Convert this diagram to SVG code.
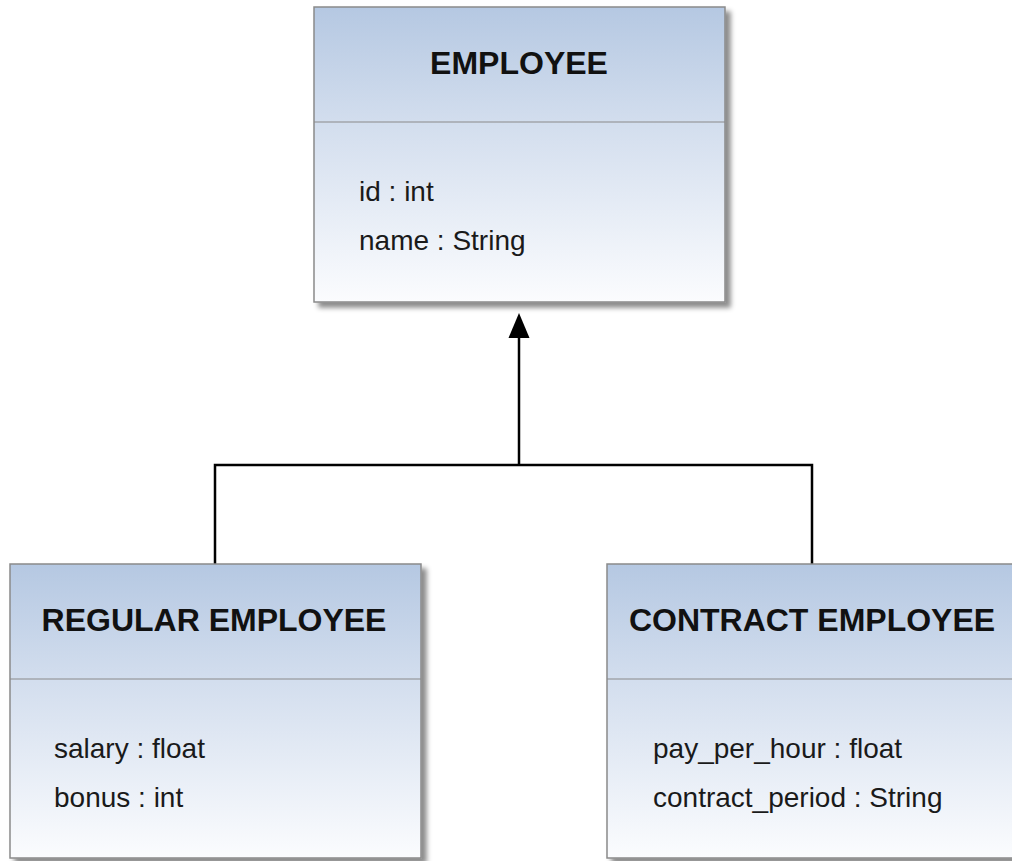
<svg xmlns="http://www.w3.org/2000/svg" width="1012" height="861" viewBox="0 0 1012 861">
  <defs>
    <linearGradient id="boxfill" x1="0" y1="0" x2="0" y2="1">
      <stop offset="0" stop-color="#b5c8e2"/>
      <stop offset="0.4" stop-color="#d3deee"/>
      <stop offset="1" stop-color="#fbfcfe"/>
    </linearGradient>
    <filter id="shadow" x="-5%" y="-5%" width="115%" height="115%">
      <feDropShadow dx="5" dy="5" stdDeviation="2.5" flood-color="#000" flood-opacity="0.45"/>
    </filter>
    <marker id="tri" viewBox="0 0 20 30" refX="10" refY="0" markerWidth="20" markerHeight="30" markerUnits="userSpaceOnUse" orient="auto-start-reverse">
      <path d="M10 0 L20 25 L0 25 Z" fill="#000"/>
    </marker>
  </defs>
  <style>
    .box { fill: url(#boxfill); stroke: #8a8a8a; stroke-width: 1.5; filter: url(#shadow); }
    .div { stroke: #8a8a8a; stroke-width: 1.2; }
    .title { font-family: "Liberation Sans", Arial, sans-serif; font-weight: bold; font-size: 32px; fill: #111; text-anchor: middle; }
    .attr { font-family: "Liberation Sans", Arial, sans-serif; font-size: 28px; fill: #1a1a1a; }
    .conn { fill: none; stroke: #000; stroke-width: 2.5; }
  </style>
  <rect width="1012" height="861" fill="#fff"/>

  <g id="connectors">
    <path class="conn" d="M519 465 L519 336"/>
    <path d="M519 313 L529.5 338 L508.5 338 Z" fill="#000"/>
    <path class="conn" d="M215 564 L215 465 L812 465 L812 564"/>
  </g>

  <g id="employee">
    <rect class="box" x="314" y="7" width="411" height="295"/>
    <line class="div" x1="314" y1="122" x2="725" y2="122"/>
    <text class="title" x="519" y="74">EMPLOYEE</text>
    <text class="attr" x="359" y="201">id : int</text>
    <text class="attr" x="359" y="250">name : String</text>
  </g>

  <g id="regular-employee">
    <rect class="box" x="10" y="564" width="411" height="294"/>
    <line class="div" x1="10" y1="679" x2="421" y2="679"/>
    <text class="title" x="214" y="631">REGULAR EMPLOYEE</text>
    <text class="attr" x="54" y="758">salary : float</text>
    <text class="attr" x="54" y="807">bonus : int</text>
  </g>

  <g id="contract-employee">
    <rect class="box" x="607" y="564" width="411" height="294"/>
    <line class="div" x1="607" y1="679" x2="1018" y2="679"/>
    <text class="title" x="812" y="631">CONTRACT EMPLOYEE</text>
    <text class="attr" x="653" y="758">pay_per_hour : float</text>
    <text class="attr" x="653" y="807">contract_period : String</text>
  </g>
</svg>
